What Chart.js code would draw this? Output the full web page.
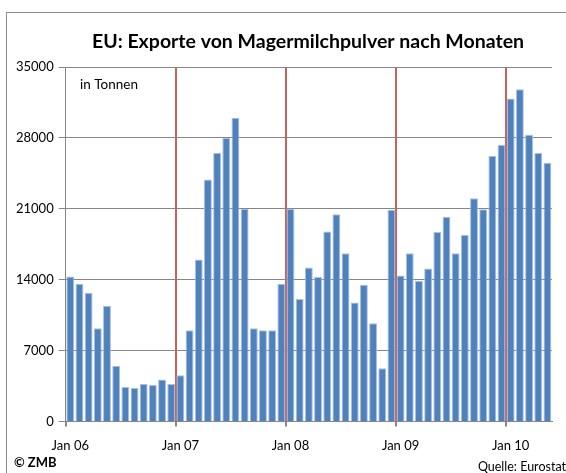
<!DOCTYPE html>
<html>
<head>
<meta charset="utf-8">
<script src="https://cdn.jsdelivr.net/npm/chart.js@4.4.1/dist/chart.umd.min.js"></script>
<style>
    html, body { margin: 0; padding: 0; background: #fff; overflow: hidden; }
    #wrap { position: relative; width: 566px; height: 473px; }
    #frame { position: absolute; left: 6px; top: 12px; width: 620px; height: 520px; border: 1px solid #8c8c8c; box-sizing: border-box; }
    canvas { position: absolute; left: 0; top: 0; }
</style>
</head>
<body>
<div id="wrap">
    <div id="frame"></div>
    <canvas id="overview" width="566" height="473"></canvas>
</div>
<script>
const years = ["06", "07", "08", "09", "10"];
const months = ["Jan", "Feb", "Mär", "Apr", "Mai", "Jun", "Jul", "Aug", "Sep", "Okt", "Nov", "Dez"];
const yTicks = [0, 7000, 14000, 21000, 28000, 35000];

// Exporte in Tonnen, Jan 06 bis Mai 10
const exports2006 = [14300, 13600, 12700, 9200, 11400, 5500, 3400, 3300, 3700, 3600, 4150, 3700];
const exports2007 = [4550, 9000, 16000, 23900, 26500, 28000, 30000, 21000, 9200, 9000, 9000, 13600];
const exports2008 = [21000, 12100, 15200, 14250, 18750, 20450, 16600, 11750, 13500, 9700, 5250, 20900];
const exports2009 = [14400, 16600, 13900, 15100, 18700, 20200, 16600, 18400, 22050, 20950, 26200, 27300];
const exports2010 = [31900, 32800, 28300, 26500, 25550];

document.addEventListener("DOMContentLoaded", () => {
    const values = [].concat(exports2006, exports2007, exports2008, exports2009, exports2010);
    const labels = [];
    for (let i = 0; i < values.length; i++) {
        labels.push(months[i % 12] + " " + years[Math.floor(i / 12)]);
    }

    const font = "Lato, 'Open Sans', sans-serif";

    // title and extra texts: unit, copyright, source
    const notes = {
        id: "notes",
        afterDraw(chart) {
            const ctx = chart.ctx;
            ctx.save();
            ctx.fillStyle = "#000";
            ctx.textBaseline = "middle";
            ctx.textAlign = "center";
            ctx.font = "bold 19.5px " + font;
            ctx.fillText("EU: Exporte von Magermilchpulver nach Monaten", 308, 42);
            ctx.textBaseline = "alphabetic";
            ctx.font = "13.5px " + font;
            ctx.textAlign = "left";
            ctx.fillText("in Tonnen", 80, 89);
            ctx.font = "bold 13px " + font;
            ctx.fillText("© ZMB", 14, 467);
            ctx.font = "12.5px " + font;
            ctx.textAlign = "right";
            ctx.fillText("Quelle: Eurostat", 566, 471);
            ctx.restore();
        }
    };

    const ctx = document.getElementById("overview").getContext("2d");
    new Chart(ctx, {
        type: "bar",
        data: {
            labels: labels,
            datasets: [{
                label: "Exporte",
                data: values,
                backgroundColor: "#4F81BD",
                borderColor: "#A9C0DF",
                borderWidth: { top: 1, left: 1, right: 1, bottom: 0 },
                categoryPercentage: 0.86,
                barPercentage: 1
            }]
        },
        options: {
            responsive: false,
            animation: false,
            layout: { padding: { left: 11, right: 14, top: 67, bottom: 7 } },
            scales: {
                x: {
                    offset: true,
                    grid: {
                        offset: true,
                        drawOnChartArea: true,
                        color: (c) => (c.index % 12 === 0 && c.index > 0) ? "#C9605C" : "rgba(0,0,0,0)",
                        lineWidth: 2,
                        tickColor: (c) => (c.index % 12 === 0) ? "#868686" : "rgba(0,0,0,0)",
                        tickLength: 5
                    },
                    border: { color: "#868686", width: 1 },
                    ticks: {
                        autoSkip: false,
                        maxRotation: 0,
                        color: "#000",
                        font: { family: font, size: 13 },
                        padding: 12,
                        callback: function (value, index) {
                            return index % 12 === 0 ? "Jan " + years[index / 12] : "";
                        }
                    }
                },
                y: {
                    min: 0,
                    max: 35000,
                    afterBuildTicks: (axis) => { axis.ticks = yTicks.map(v => ({ value: v })); },
                    grid: { color: "#868686", lineWidth: 1, tickLength: 7, tickColor: "#868686" },
                    border: { color: "#868686", width: 1 },
                    ticks: {
                        color: "#000",
                        font: { family: font, size: 13 },
                        padding: 5,
                        callback: (v) => String(v)
                    }
                }
            },
            plugins: {
                legend: { display: false },
                tooltip: { enabled: false },
                title: { display: false }
            }
        },
        plugins: [notes]
    });
});
</script>
</body>
</html>
